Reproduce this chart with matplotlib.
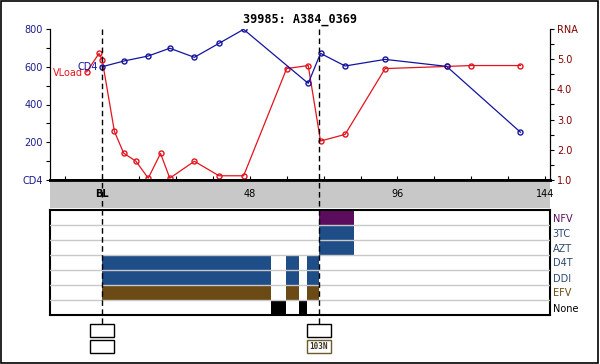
import matplotlib
matplotlib.use("Agg")
import matplotlib.pyplot as plt
from matplotlib.patches import Rectangle
from matplotlib.lines import Line2D
from matplotlib.transforms import blended_transform_factory

W, H = 600, 364

title = "39985: A384_0369"

# CD4 counts (left axis)
cd4_weeks = [0, 7, 15, 22, 30, 38, 46, 67, 71, 79, 92, 112, 136]
cd4_vals = [600, 630, 657, 698, 650, 724, 798, 512, 671, 604, 639, 602, 253]

# viral load, log RNA (right axis)
vl_weeks = [-5, -1, 0, 4, 7, 11, 15, 19, 22, 30, 38, 46, 60, 67, 71, 79, 92, 112, 120, 136]
vl_vals = [4.58, 5.19, 4.99, 2.61, 1.89, 1.62, 1.06, 1.88, 1.06, 1.62, 1.14, 1.14,
           4.69, 4.79, 2.29, 2.51, 4.69, 4.76, 4.79, 4.79]

# drug rows, top to bottom, with (start, end) week spans
drugs = ["NFV", "3TC", "AZT", "D4T", "DDI", "EFV", "None"]
drug_colors = ["#5c0c5c", "#1f4d87", "#1f4d87", "#1f4d87", "#1f4d87", "#6b4a15", "#000000"]
label_colors = ["#5c0c5c", "#2b4a72", "#2b4a72", "#2b4a72", "#2b4a72", "#6b4a15", "#000000"]
drug_spans = {
    "NFV": [(70.5, 81.8)],
    "3TC": [(70.5, 81.8)],
    "AZT": [(70.5, 81.8)],
    "D4T": [(0, 54.9), (59.8, 64.0), (66.6, 70.5)],
    "DDI": [(0, 54.9), (59.8, 64.0), (66.6, 70.5)],
    "EFV": [(0, 54.9), (59.8, 64.0), (66.6, 70.5)],
    "None": [(54.9, 59.8), (64.0, 66.6)],
}

# events: week, genotype box texts
event_weeks = [0, 70.5]
event_boxes = [["", ""], ["", "103N"]]

xticks_major = [0, 48, 96, 144]
xtick_labels = ["BL", "48", "96", "144"]
xlim = (-17.1, 145.6)


def px_rect(x0, y0, x1, y1):
    return [x0 / W, 1 - y1 / H, (x1 - x0) / W, (y1 - y0) / H]


plt.rcParams["font.family"] = "DejaVu Sans"
fig = plt.figure(figsize=(W / 100, H / 100), dpi=100)
fig.patch.set_facecolor("white")

# ---- top chart ----
ax = fig.add_axes(px_rect(49.5, 29, 550, 180))
ax2 = ax.twinx()
ax.set_xlim(*xlim)
ax.set_ylim(0, 800)
ax2.set_ylim(1, 6)

ax.plot(cd4_weeks, cd4_vals, color="#1414a0", lw=0.9, marker="o", ms=3.6,
        mfc="none", mec="#1414a0", mew=1, zorder=3)
ax2.plot(vl_weeks, vl_vals, color="#e3141e", lw=0.9, marker="o", ms=3.6,
         mfc="none", mec="#e3141e", mew=1, zorder=3)
ax.annotate("CD4", (cd4_weeks[0], cd4_vals[0]), xytext=(-3, 0), textcoords="offset points",
            ha="right", va="center", fontsize=7, color="#1414a0")
ax2.annotate("VLoad", (vl_weeks[0], vl_vals[0]), xytext=(-3, -1), textcoords="offset points",
             ha="right", va="center", fontsize=7, color="#e3141e")

ax.set_yticks(range(0, 801, 100))
ax.set_yticklabels(["CD4", "", "200", "", "400", "", "600", "", "800"])
ax.tick_params(axis="y", direction="out", length=3, labelsize=7, labelcolor="#1c1c8c", pad=2)
ax2.set_yticks([1 + 0.5 * i for i in range(11)])
ax2.set_yticklabels(["1.0", "", "2.0", "", "3.0", "", "4.0", "", "5.0", "", "RNA"])
ax2.tick_params(axis="y", direction="out", length=3, labelsize=7, labelcolor="#800000", pad=2)

ax.set_xticks(range(-12, 145, 12))
ax.tick_params(axis="x", direction="in", length=3, labelbottom=False, width=0.8)
for a in (ax, ax2):
    a.spines["top"].set_visible(False)
    a.spines["left"].set_linewidth(0.8)
    a.spines["right"].set_linewidth(0.8)
    a.spines["bottom"].set_linewidth(2)
ax.set_zorder(ax2.get_zorder() + 1)
ax.patch.set_visible(False)

# ---- grey week band ----
band = fig.add_axes(px_rect(49.5, 180, 550, 208))
band.set_facecolor("#c8c8c8")
band.set_xlim(*xlim)
band.set_ylim(0, 1)
band.set_xticks([])
band.set_yticks([])
for s in band.spines.values():
    s.set_visible(False)
for wk, lbl in zip(xticks_major, xtick_labels):
    band.text(wk, 0.5, lbl, transform=band.get_xaxis_transform(), ha="center", va="center",
              fontsize=7, fontweight="bold" if lbl == "BL" else "normal")

# ---- regimen panel ----
axb = fig.add_axes(px_rect(49.5, 210, 550, 315))
axb.set_xlim(*xlim)
axb.set_ylim(len(drugs), 0)
for i, (d, c) in enumerate(zip(drugs, drug_colors)):
    spans = [(s, e - s) for s, e in drug_spans[d]]
    axb.broken_barh(spans, (i, 1), facecolors=c, zorder=2)
for i in range(1, len(drugs)):
    axb.axhline(i, color="#c8c8c8", lw=1, zorder=3)
axb.set_xticks([])
axb.yaxis.tick_right()
axb.set_yticks([i + 0.5 for i in range(len(drugs))])
axb.set_yticklabels(drugs, fontsize=7)
axb.tick_params(axis="y", length=0, pad=2)
for t, c in zip(axb.get_yticklabels(), label_colors):
    t.set_color(c)
for s in axb.spines.values():
    s.set_linewidth(1.5)

# ---- event lines and genotype boxes ----
tr = blended_transform_factory(ax.transData, fig.transFigure)
box_w = 7.8
for wk, boxes in zip(event_weeks, event_boxes):
    fig.add_artist(Line2D([wk, wk], [1 - 29 / H, 1 - 324 / H], transform=tr, color="black",
                          lw=1, ls=(0, (4, 2.5)), zorder=10))
    for j, txt in enumerate(boxes):
        y_top = 324 + j * 16
        ec = "#6b5a2a" if txt else "black"
        fig.add_artist(Rectangle((wk - box_w / 2, 1 - (y_top + 13) / H), box_w, 13 / H,
                                 transform=tr, facecolor="white", edgecolor=ec, lw=1, zorder=10))
        if txt:
            fig.text(wk, 1 - (y_top + 6.5) / H, txt, transform=tr, ha="center", va="center",
                     fontsize=5.5, fontweight="bold", family="DejaVu Sans Mono",
                     color="#3a3020", zorder=11)

# title and outer frame
fig.text(0.5, 1 - 19 / H, title, ha="center", va="center", fontsize=8.5,
         fontweight="bold", family="DejaVu Sans Mono")
fig.add_artist(Rectangle((0.5 / W, 1.5 / H), (W - 2.5) / W, (H - 2.5) / H,
                         transform=fig.transFigure, fill=False, edgecolor="black", lw=1.2))

fig.savefig("out.png", dpi=100)
